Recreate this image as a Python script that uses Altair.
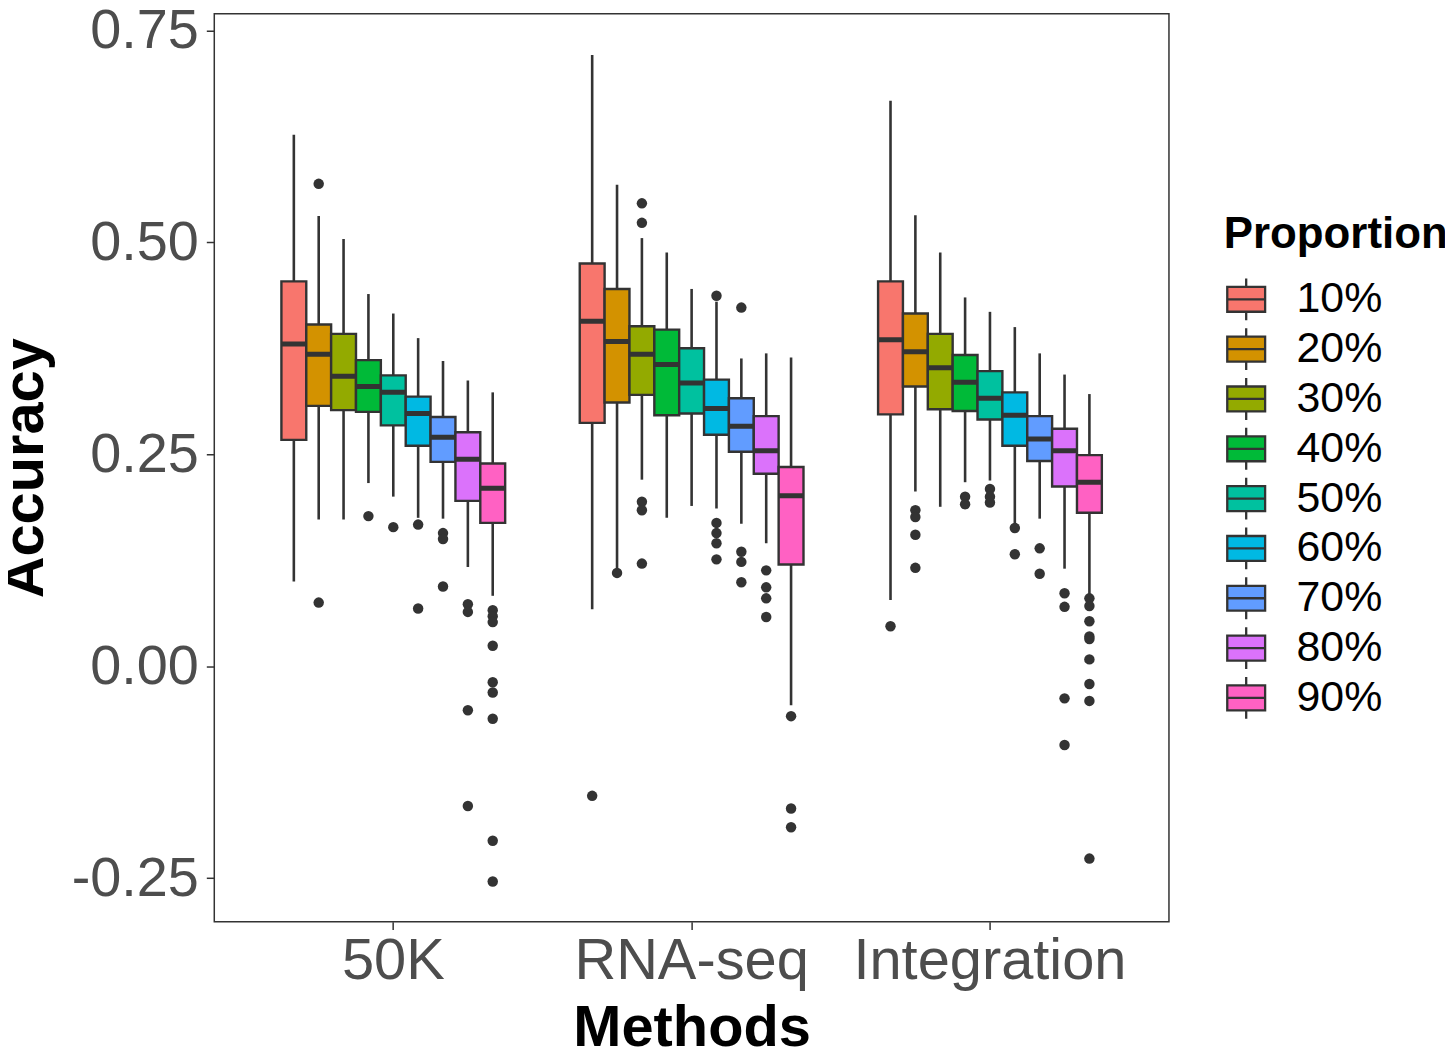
import altair as alt
import pandas as pd

methods = ["50K", "RNA-seq", "Integration"]
props = ["10%", "20%", "30%", "40%", "50%", "60%", "70%", "80%", "90%"]
colors = ["#F8766D", "#D39200", "#93AA00", "#00BA38", "#00C19F",
          "#00B9E3", "#619CFF", "#DB72FB", "#FF61C3"]

# box statistics (per proportion 10%..90%)
k50_lower = [0.100, 0.173, 0.173, 0.216, 0.200, 0.175, 0.174, 0.117, 0.083]
k50_q1 = [0.267, 0.307, 0.302, 0.300, 0.284, 0.260, 0.241, 0.195, 0.169]
k50_med = [0.380, 0.368, 0.342, 0.330, 0.323, 0.298, 0.270, 0.244, 0.210]
k50_q3 = [0.454, 0.403, 0.392, 0.361, 0.343, 0.318, 0.294, 0.276, 0.239]
k50_upper = [0.627, 0.531, 0.504, 0.439, 0.416, 0.387, 0.360, 0.337, 0.323]
k50_out = [[], [0.569, 0.075], [], [0.177], [0.164], [0.167, 0.068],
           [0.157, 0.150, 0.094], [0.073, 0.064, -0.052, -0.165],
           [0.066, 0.059, 0.052, 0.024, -0.019, -0.031, -0.062, -0.206, -0.254]]

rna_lower = [0.067, 0.114, 0.220, 0.175, 0.189, 0.186, 0.168, 0.145, -0.046]
rna_q1 = [0.287, 0.311, 0.320, 0.296, 0.298, 0.273, 0.253, 0.227, 0.120]
rna_med = [0.407, 0.383, 0.368, 0.356, 0.334, 0.304, 0.283, 0.254, 0.201]
rna_q3 = [0.475, 0.445, 0.401, 0.397, 0.375, 0.338, 0.316, 0.295, 0.235]
rna_upper = [0.721, 0.568, 0.505, 0.488, 0.445, 0.430, 0.363, 0.369, 0.364]
rna_out = [[-0.153], [0.110], [0.546, 0.523, 0.194, 0.184, 0.121], [], [],
           [0.437, 0.169, 0.157, 0.145, 0.126], [0.423, 0.135, 0.123, 0.099],
           [0.113, 0.093, 0.080, 0.058], [-0.059, -0.168, -0.190]]

int_lower = [0.078, 0.206, 0.188, 0.217, 0.219, 0.166, 0.174, 0.115, 0.085]
int_q1 = [0.297, 0.330, 0.303, 0.301, 0.291, 0.260, 0.242, 0.212, 0.181]
int_med = [0.385, 0.371, 0.352, 0.335, 0.316, 0.296, 0.268, 0.254, 0.217]
int_q3 = [0.454, 0.416, 0.392, 0.367, 0.348, 0.323, 0.295, 0.280, 0.249]
int_upper = [0.667, 0.532, 0.488, 0.435, 0.418, 0.400, 0.369, 0.344, 0.321]
int_out = [[0.047], [0.184, 0.176, 0.155, 0.116], [], [0.200, 0.191],
           [0.209, 0.200, 0.193], [0.163, 0.132], [0.139, 0.109],
           [0.086, 0.070, -0.038, -0.093],
           [0.080, 0.071, 0.053, 0.035, 0.032, 0.008, -0.021, -0.041, -0.227]]

stats = {
    "50K": (k50_lower, k50_q1, k50_med, k50_q3, k50_upper, k50_out),
    "RNA-seq": (rna_lower, rna_q1, rna_med, rna_q3, rna_upper, rna_out),
    "Integration": (int_lower, int_q1, int_med, int_q3, int_upper, int_out),
}

box_rows, out_rows = [], []
for m in methods:
    lo, q1, md, q3, up, outs = stats[m]
    for i, p in enumerate(props):
        box_rows.append(dict(method=m, prop=p, lower=lo[i], q1=q1[i],
                             median=md[i], q3=q3[i], upper=up[i]))
        for v in outs[i]:
            out_rows.append(dict(method=m, prop=p, value=v))
box_df = pd.DataFrame(box_rows)
out_df = pd.DataFrame(out_rows)

FONT = "Liberation Sans"
DARK = "#333333"

x_enc = alt.X("method:N", sort=methods,
              scale=alt.Scale(paddingInner=0.25, paddingOuter=0.225),
              axis=alt.Axis(title="Methods", labelAngle=0, labelFontSize=58,
                            labelPadding=3, titlePadding=9))
xo_enc = alt.XOffset("prop:N", sort=props,
                     scale=alt.Scale(paddingInner=0, paddingOuter=0))
y_scale = alt.Scale(domain=[-0.3014, 0.7696], nice=False, zero=False)
y_axis = alt.Axis(title="Accuracy", values=[-0.25, 0, 0.25, 0.5, 0.75],
                  labelExpr="replace(format(datum.value, '.2f'), '\u2212', '-')")

box_symbol = ("M-0.905,-0.595H0.905V0.595H-0.905Z M-0.905,0H0.905 "
              "M0,-0.595V-1 M0,0.595V1")

whisk = alt.Chart(box_df).mark_rule(color=DARK, strokeWidth=2.6).encode(
    x=x_enc, xOffset=xo_enc,
    y=alt.Y("lower:Q", scale=y_scale, axis=y_axis), y2="upper:Q")

boxes = alt.Chart(box_df).mark_bar(stroke=DARK, strokeWidth=2.4, opacity=1).encode(
    x=x_enc, xOffset=xo_enc,
    y=alt.Y("q1:Q", scale=y_scale, axis=y_axis), y2="q3:Q",
    fill=alt.Fill("prop:N", sort=props,
                  scale=alt.Scale(domain=props, range=colors),
                  legend=alt.Legend(title="Proportion", orient="none",
                                    legendX=1013, legendY=200,
                                    symbolType=box_symbol, symbolSize=1764,
                                    symbolStrokeColor=DARK, symbolStrokeWidth=2.3,
                                    symbolOpacity=1,
                                    labelFontSize=43, labelFont=FONT,
                                    labelColor="black", labelOffset=28,
                                    labelLimit=0, titleLimit=0,
                                    titleFontSize=44, titleFont=FONT,
                                    titleFontWeight="bold", titleColor="black",
                                    titlePadding=20, rowPadding=-3)))

medians = alt.Chart(box_df).mark_bar(stroke=DARK, strokeWidth=5, fillOpacity=0).encode(
    x=x_enc, xOffset=xo_enc,
    y=alt.Y("median:Q", scale=y_scale, axis=y_axis), y2="median:Q")

outliers = alt.Chart(out_df).mark_circle(color=DARK, opacity=1, size=110).encode(
    x=x_enc, xOffset=xo_enc,
    y=alt.Y("value:Q", scale=y_scale, axis=y_axis))

chart = alt.layer(whisk, boxes, medians, outliers).properties(
    width=958, height=911,
    autosize=alt.AutoSizeParams(type="none"),
    padding={"left": 207, "top": 4, "right": 277, "bottom": 132},
).configure_view(
    stroke=DARK, strokeWidth=1.5
).configure_axis(
    grid=False, domain=False, labelLimit=0,
    labelFont=FONT, labelFontSize=56, labelColor="#4D4D4D",
    titleFont=FONT, titleFontSize=58, titleFontWeight="bold", titleColor="black",
    tickColor=DARK, tickSize=8, tickWidth=1.5, labelPadding=8,
).configure_axisY(titlePadding=17)

chart.save("out.html", embed_options={"renderer": "svg", "actions": False})
